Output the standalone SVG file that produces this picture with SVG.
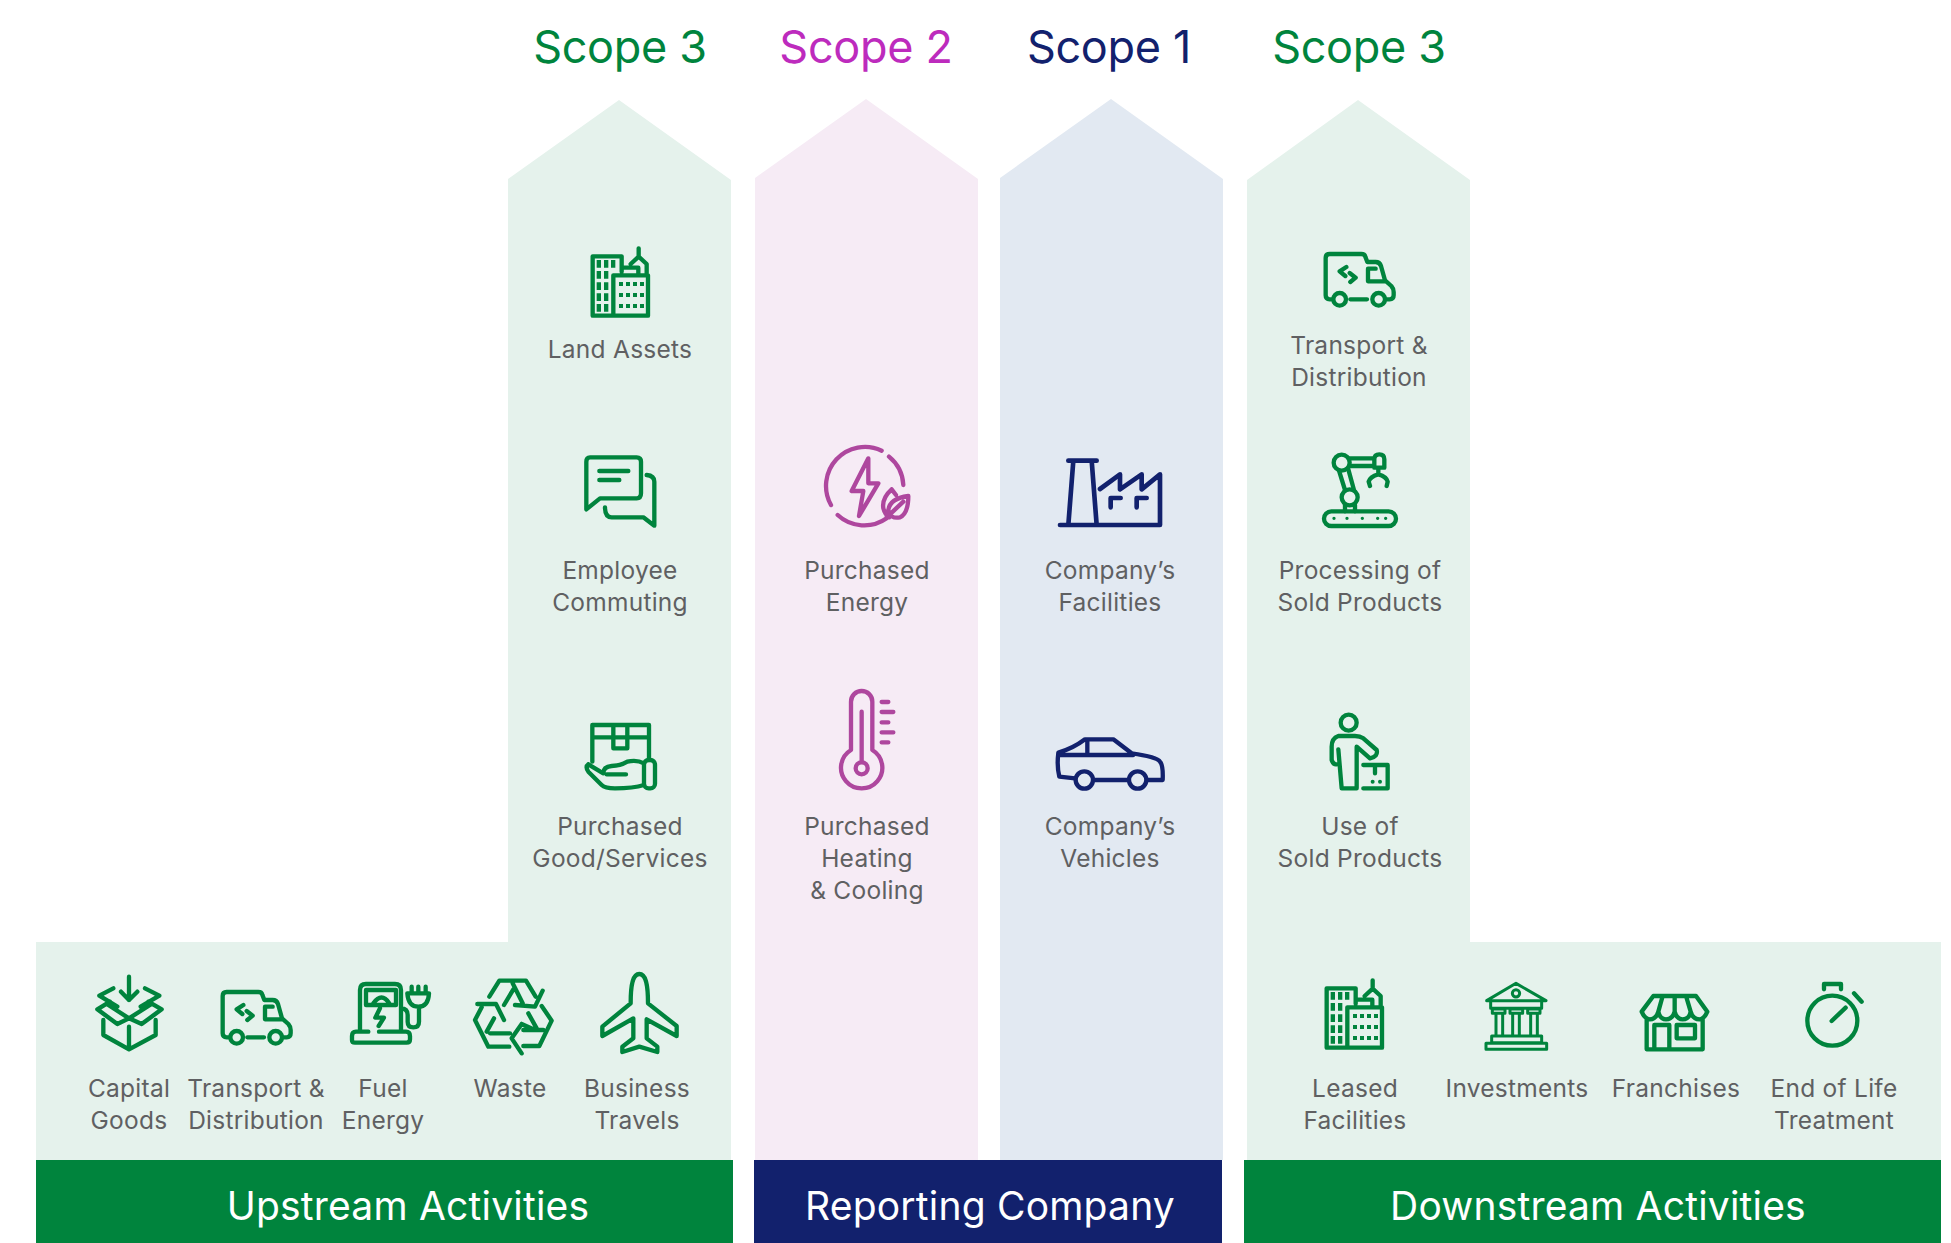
<svg xmlns="http://www.w3.org/2000/svg" width="1951" height="1243" viewBox="0 0 1951 1243">
<style>
text{font-family:"Inter","Lato","Liberation Sans",sans-serif;text-anchor:middle}
.lab{font-size:24.5px;fill:#5f6062;letter-spacing:.25px}
.scope{font-size:45px;letter-spacing:-.3px}
.bar{font-size:39px;fill:#fff;letter-spacing:.2px}
.ic{fill:none;stroke-width:13;stroke-linecap:round;stroke-linejoin:round}
.g{stroke:#00843d}.p{stroke:#ae479e}.n{stroke:#12216d}
.dot{stroke:none;fill:#00843d}
</style>
<defs>
<g id="building">
<path d="M365,815V769H278V947H444V826H340V947M365,803H415V826M416,745V770L392,792M416,770L440,792V826"/>
<path class="dot" d="M290,780h13v23h-13zM312,780h13v23h-13zM333,780h13v23h-13zM290,813h13v23h-13zM312,813h13v23h-13zM290,847h13v23h-13zM312,847h13v23h-13zM290,880h13v23h-13zM312,880h13v23h-13zM290,912h13v23h-13zM312,912h13v23h-13zM357,846h12v12h-12zM378,846h12v12h-12zM399,846h12v12h-12zM420,846h12v12h-12zM357,879h12v12h-12zM378,879h12v12h-12zM399,879h12v12h-12zM420,879h12v12h-12zM357,912h12v12h-12zM378,912h12v12h-12zM399,912h12v12h-12zM420,912h12v12h-12z"/>
</g>
<g id="van">
<path d="M597,262H590Q578,262 578,250V138Q578,126 590,126H685Q695,126 697,134L703,150H728Q740,150 744,162L756,205L775,222Q782,230 782,240V250Q782,262 770,262H760M652,262H702M728,170H705V208H756M640,165L620,178L637,192M650,183L668,197L652,210"/>
<circle cx="620" cy="262" r="19"/><circle cx="737" cy="262" r="19"/>
</g>
</defs>

<g id="bands">
<polygon fill="#e5f2ec" points="36,942 508,942 508,179 619,100 731,180 731,1160 36,1160"/>
<polygon fill="#f6ebf5" points="755,178 866,99 978,179 978,1160 755,1160"/>
<polygon fill="#e2e9f2" points="1000,178 1111,99 1223,179 1223,1160 1000,1160"/>
<polygon fill="#e5f2ec" points="1247,180 1358,100 1470,180 1470,942 1941,942 1941,1160 1247,1160"/>
<rect x="36" y="1160" width="697" height="83" fill="#00843d"/>
<rect x="754" y="1160" width="468" height="83" fill="#12216d"/>
<rect x="1244" y="1160" width="697" height="83" fill="#00843d"/>
</g>

<g id="titles">
<text class="scope" x="620" y="63" fill="#00843d">Scope 3</text>
<text class="scope" x="866" y="63" fill="#bd2bbd">Scope 2</text>
<text class="scope" x="1109" y="63" fill="#12216d">Scope 1</text>
<text class="scope" x="1359" y="63" fill="#00843d">Scope 3</text>
<text class="bar" x="408" y="1220">Upstream Activities</text>
<text class="bar" x="990" y="1220">Reporting Company</text>
<text class="bar" x="1598" y="1220">Downstream Activities</text>
</g>

<g id="land-assets">
<g class="ic g" transform="translate(500,0) scale(.33333)"><use href="#building"/></g>
<text class="lab" x="620" y="358">Land Assets</text>
</g>

<g id="employee-commuting">
<g class="ic g" transform="translate(540,430) scale(.33333)">
<path d="M150,82H290Q303,82 303,95V190Q303,205 290,205H180L139,238V95Q139,82 150,82ZM178,123H265M178,150H238M320,135Q343,137 343,155V287L310,262H215Q195,262 195,232"/>
</g>
<text class="lab" x="620" y="579">Employee</text>
<text class="lab" x="620" y="611">Commuting</text>
</g>

<g id="purchased-goods">
<g class="ic g" transform="translate(540,430) scale(.33333)">
<path d="M157,995V885H327V990M157,922H327M220,885V955H262V885M145,1003Q135,1010 145,1025L185,1065Q195,1075 225,1075Q280,1075 312,1065M145,1003L190,1030M190,1030Q190,1010 215,1008Q240,1008 262,995Q290,988 312,1000M200,1033H258"/>
<rect x="312" y="990" width="33" height="85" rx="14"/>
</g>
<text class="lab" x="620" y="835">Purchased</text>
<text class="lab" x="620" y="867">Good/Services</text>
</g>

<g id="purchased-energy">
<g class="ic p" transform="translate(540,430) scale(.33333)">
<path d="M1025,62A117,117 0 0 0 873,225M893,255A117,117 0 0 0 1040,265M1047,80A117,117 0 0 1 1090,165M985,85L935,183H970L957,258L1015,160H985ZM1055,178Q1025,205 1030,235Q1035,255 1048,262M1055,178L1068,195M1105,198Q1050,205 1045,240Q1050,268 1080,262Q1105,250 1105,198ZM1090,215L1040,262"/>
</g>
<text class="lab" x="867" y="579">Purchased</text>
<text class="lab" x="867" y="611">Energy</text>
</g>

<g id="purchased-heating">
<g class="ic p" transform="translate(540,430) scale(.33333)">
<path d="M933,960V815A32,32 0 0 1 997,815V960A62,62 0 1 1 933,960ZM965,845V995M1025,816H1045M1025,846H1060M1025,877H1045M1025,907H1060M1025,937H1045"/>
<circle cx="965" cy="1015" r="18"/>
</g>
<text class="lab" x="867" y="835">Purchased</text>
<text class="lab" x="867" y="867">Heating</text>
<text class="lab" x="867" y="899">&amp; Cooling</text>
</g>

<g id="company-facilities">
<g class="ic n" style="stroke-width:14" transform="translate(780,430) scale(.33333)">
<path d="M865,92H950M880,92L865,285M935,92L950,285M840,285H1140V133L1085,178V133L1020,178V133L960,177M992,232V204H1022M1070,232V204H1100"/>
</g>
<text class="lab" x="1110" y="579">Company’s</text>
<text class="lab" x="1110" y="611">Facilities</text>
</g>

<g id="company-vehicles">
<g class="ic n" style="stroke-width:13" transform="translate(780,430) scale(.33333)">
<path d="M885,1045L838,1040Q830,1010 835,968Q880,955 915,928H1000L1055,970Q1130,980 1140,995Q1150,1005 1148,1050H1105M1042,1050H945M835,975H1060M922,930V975"/>
<circle cx="913" cy="1050" r="26"/><circle cx="1073" cy="1050" r="26"/>
</g>
<text class="lab" x="1110" y="835">Company’s</text>
<text class="lab" x="1110" y="867">Vehicles</text>
</g>

<g id="transport-downstream">
<g class="ic g" transform="translate(1103,-738)"><g transform="translate(30,950) scale(.33333)"><use href="#van"/></g></g>
<text class="lab" x="1359" y="354">Transport &amp;</text>
<text class="lab" x="1359" y="386">Distribution</text>
</g>

<g id="processing">
<g class="ic g" transform="translate(1020,430) scale(.33333)">
<rect x="912" y="244" width="216" height="44" rx="22"/>
<circle cx="989" cy="202" r="24"/><circle cx="965" cy="98" r="24"/>
<path d="M975,225V244M1005,225V244M957,122L975,180M985,118L1002,180M988,85H1063M988,108H1063M1063,113V88Q1063,73 1078,73Q1093,73 1093,88V113ZM1075,113V133M1050,168L1046,155Q1050,140 1075,133Q1100,140 1103,155L1100,168"/>
<path class="dot" d="M937,265a5,5 0 1 0 10,0a5,5 0 1 0 -10,0M976,265a5,5 0 1 0 10,0a5,5 0 1 0 -10,0M1022,265a5,5 0 1 0 10,0a5,5 0 1 0 -10,0M1068,265a5,5 0 1 0 10,0a5,5 0 1 0 -10,0M1092,265a5,5 0 1 0 10,0a5,5 0 1 0 -10,0"/>
</g>
<text class="lab" x="1360" y="579">Processing of</text>
<text class="lab" x="1360" y="611">Sold Products</text>
</g>

<g id="use-of-sold">
<g class="ic g" transform="translate(1020,430) scale(.33333)">
<circle cx="986" cy="878" r="24"/>
<path d="M955,958L965,1075H1010V950L1050,985Q1075,980 1070,960L1030,925Q1020,918 1005,918H955Q935,925 935,950V990Q940,1005 950,1003M1030,1005H1103V1075H1030M1065,1005V1030"/>
<path class="dot" d="M1052,1055a6,6 0 1 0 12,0a6,6 0 1 0 -12,0M1074,1055a6,6 0 1 0 12,0a6,6 0 1 0 -12,0"/>
</g>
<text class="lab" x="1360" y="835">Use of</text>
<text class="lab" x="1360" y="867">Sold Products</text>
</g>

<g id="capital-goods">
<g class="ic g" transform="translate(30,950) scale(.33333)">
<path d="M297,80V150M273,125L297,150L322,125M250,115L208,137L262,170M345,115L388,137L332,170M240,155L202,178L262,222L297,205L335,222L395,178L355,155M297,205L235,165M297,205L360,165M220,210V255L297,298L377,255V210M297,230V298"/>
</g>
<text class="lab" x="129" y="1097">Capital</text>
<text class="lab" x="129" y="1129">Goods</text>
</g>

<g id="transport-upstream">
<g class="ic g" transform="translate(30,950) scale(.33333)"><use href="#van"/></g>
<text class="lab" x="256" y="1097">Transport &amp;</text>
<text class="lab" x="256" y="1129">Distribution</text>
</g>

<g id="fuel-energy">
<g class="ic g" transform="translate(30,950) scale(.33333)">
<path d="M990,240V120Q990,102 1008,102H1095Q1113,102 1113,120V240M1008,120H1098V165H1008ZM1030,160Q1055,125 1078,160M1050,175L1036,203H1062L1046,228M1015,245H978Q966,245 966,258V270Q966,278 975,278H1130Q1140,278 1140,268V258Q1140,245 1128,245H1047M1113,175Q1133,175 1133,195V215Q1133,232 1150,232Q1167,232 1167,215V170M1132,130H1197Q1195,170 1165,170Q1135,170 1132,130ZM1145,110V130M1165,110V130M1187,110V130"/>
</g>
<text class="lab" x="383" y="1097">Fuel</text>
<text class="lab" x="383" y="1129">Energy</text>
</g>

<g id="waste">
<g class="ic g" transform="translate(420,950) scale(.33333)">
<path d="M208,140L238,92H318L347,140M368,122L345,170L285,165M278,100L308,160M252,165L280,118M172,162H228L252,210M185,172L165,210L205,290H268M210,250H270M222,205L200,245M365,168L395,212L358,288H310M305,310L275,265L305,222M310,240H370M325,190L350,235M305,222L345,240"/>
</g>
<text class="lab" x="510" y="1097">Waste</text>
</g>

<g id="business-travels">
<g class="ic g" transform="translate(420,950) scale(.33333)">
<path d="M632,160C632,100 640,72 658,72C676,72 684,100 684,160L770,228V258L680,208V265L712,290V306L658,290L607,306V290L640,265V205L547,258V230Z"/>
</g>
<text class="lab" x="637" y="1097">Business</text>
<text class="lab" x="637" y="1129">Travels</text>
</g>

<g id="leased-facilities">
<g class="ic g" transform="translate(734,732)"><g transform="translate(500,0) scale(.33333)"><use href="#building"/></g></g>
<text class="lab" x="1355" y="1097">Leased</text>
<text class="lab" x="1355" y="1129">Facilities</text>
</g>

<g id="investments">
<g class="ic g" style="stroke-width:9" transform="translate(1240,950) scale(.33333)">
<path d="M740,152L828,100L918,152ZM752,155V175H905V155M757,177H795V190H757ZM810,177H848V190H810ZM863,177H900V190H863ZM768,190V258M788,190V258M818,190V258M838,190V258M872,190V258M892,190V258M755,258H905V278H755ZM738,280H920V298H738Z"/>
<circle cx="828" cy="130" r="11"/>
</g>
<text class="lab" x="1517" y="1097">Investments</text>
</g>

<g id="franchises">
<g class="ic g" transform="translate(1600,950) scale(.33333)">
<path d="M125,185L160,138H288L322,185Q312,208 298,208Q278,208 272,185Q268,208 248,208Q230,208 224,185Q218,208 198,208Q180,208 175,185Q168,208 150,208Q135,208 125,185ZM175,185L188,138M224,185V138M272,185L258,138M140,208V298H308V208M163,298V225H208V298M230,225H285V265H230Z"/>
</g>
<text class="lab" x="1676" y="1097">Franchises</text>
</g>

<g id="end-of-life">
<g class="ic g" transform="translate(1600,950) scale(.33333)">
<circle cx="697" cy="212" r="75"/>
<path d="M672,118V102H723V118M762,130L785,155M695,213L737,173"/>
</g>
<text class="lab" x="1834" y="1097">End of Life</text>
<text class="lab" x="1834" y="1129">Treatment</text>
</g>
</svg>
